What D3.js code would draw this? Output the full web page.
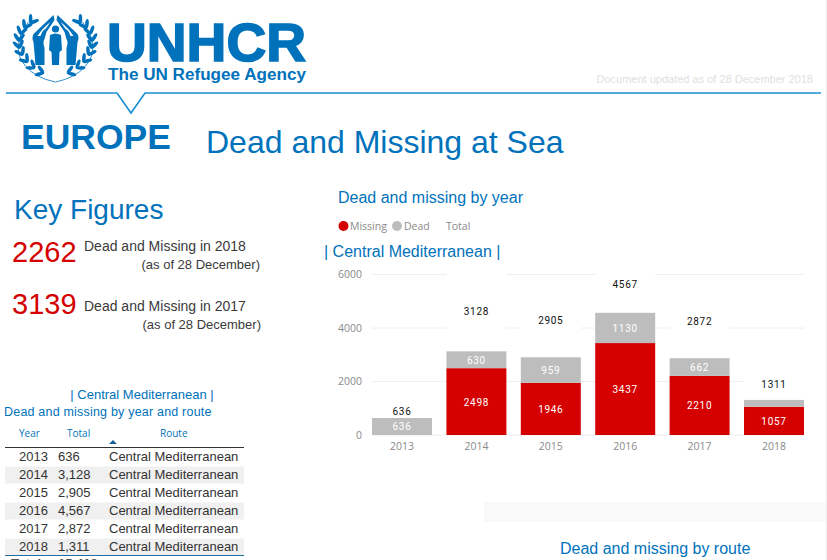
<!DOCTYPE html>
<html><head><meta charset="utf-8">
<script src="https://cdn.jsdelivr.net/npm/d3@7"></script>
<style>html,body{margin:0;padding:0;background:#fff}svg{display:block}</style></head>
<body><svg id="c" width="827" height="560"></svg>
<script>
const years=[2013,2014,2015,2016,2017,2018];
const missing=[0,2498,1946,3437,2210,1057];
const dead=[636,630,959,1130,662,254];
const totals=[636,3128,2905,4567,2872,1311];
const deadLabels=["636","630","959","1130","662",""];
const missingLabels=["","2498","1946","3437","2210","1057"];
const yTicks=[0,2000,4000,6000];
const tableTotals=["636","3,128","2,905","4,567","2,872","1,311"];
const tableRoute="Central Mediterranean";
const keyFigures=[["2262","Dead and Missing in 2018"],["3139","Dead and Missing in 2017"]];

const BLUE="#0072bc",TXT="Liberation Sans, Arial, sans-serif",DIN="Roboto, sans-serif",UI="'Open Sans', sans-serif";
const svg=d3.select("#c");
function t(x,y,s,size,fill,o={}){return svg.append("text").attr("x",x).attr("y",y).text(s)
 .attr("font-family",o.f||TXT).attr("font-size",size).attr("fill",fill).attr("font-weight",o.w||400)
 .attr("text-anchor",o.a||"start").attr("letter-spacing",o.ls||0);}

svg.append("rect").attr("x",826).attr("y",0).attr("width",1).attr("height",560).attr("fill","#eeeeee");

/* logo */
const logo=svg.append("g");
t(107,61,"UNHCR",53,BLUE,{w:700}).attr("textLength",199).attr("lengthAdjust","spacingAndGlyphs").attr("stroke",BLUE).attr("stroke-width",1.6);
t(108,80,"The UN Refugee Agency",17.2,BLUE,{w:700}).attr("textLength",198).attr("lengthAdjust","spacingAndGlyphs");
const L=logo.append("g").attr("fill",BLUE);
L.append("circle").attr("cx",55.5).attr("cy",29).attr("r",3.6);
L.append("path").attr("d","M50 35 Q55.5 32 61 35 L62 50 L59.5 52 L59 65 L52 65 L51.5 52 L49 50 Z");
for(const s of [-1,1]){
  const h=L.append("g").attr("transform",`translate(55.5,0) scale(${s},1)`);
  h.append("path").attr("d","M2 15 L22 34 Q24 38 22 42 L20 65 L11 65 L11 48 Q13 42 11 39 L9 32 L1 20 Z");
  h.append("path").attr("d","M5 22 Q13 28 18 36 L15 36 Q13 30 10 29 Z").attr("fill","#fff");
  const w=L.append("g").attr("transform",`translate(55.5,0) scale(${s},1)`);
  const nodes=[[25,23,-125],[31,28,-118],[35,34,-105],[36.5,41,-92],[36,48,-78],[33,55,-62],[28,62,-50],[21,68,-35],[12,73,-20]];
  nodes.forEach(n=>{
    [-34,34].forEach(a=>{
      w.append("ellipse").attr("rx",4.8).attr("ry",1.8)
       .attr("transform",`translate(${n[0]},${n[1]}) rotate(${n[2]+a}) translate(4.2,0)`);
    });
  });
  w.append("path").attr("d","M27 22 Q46 48 30 66 Q20 78 0 82").attr("fill","none").attr("stroke",BLUE).attr("stroke-width",.8);
}

/* header */
t(813,83,"Document updated as of 28 December 2018",11,"#dfdfdf",{a:"end"});
svg.append("path").attr("d","M6 93 H117 L131 113 L145 93 H821").attr("fill","none").attr("stroke","#1a8fd0").attr("stroke-width",1.6);
t(21,149,"EUROPE",35.5,BLUE,{w:700});
t(206,153,"Dead and Missing at Sea",32,BLUE);

/* key figures */
t(14,219,"Key Figures",28,BLUE);
keyFigures.forEach((k,i)=>{
  const dy=i*60;
  t(12,262+i*52,k[0],29,"#d50000");
  t(84,251+dy,k[1],14,"#3a3a3a");
  t(260+i,269+dy,"(as of 28 December)",13,"#3a3a3a",{a:"end"});
});

/* chart */
const x=d3.scaleBand().domain(years).range([364.8,811.2]).paddingInner(.194).paddingOuter(.097);
const y=d3.scaleLinear().domain([0,6000]).range([435,274.5]);
const clipMax=6860;
const grid=svg.append("g");
grid.selectAll("line").data(yTicks).join("line").attr("x1",372).attr("x2",804)
 .attr("y1",d=>y(d)).attr("y2",d=>y(d)).attr("stroke","#eeeeee").attr("stroke-width",1);
const yAxis=svg.append("g").attr("transform","translate(364,0)").call(d3.axisLeft(y).tickValues(yTicks).tickFormat(d3.format("d")).tickSize(0).tickPadding(2));
yAxis.select(".domain").remove();
yAxis.selectAll("text").attr("font-family",UI).attr("font-size",10.5).attr("fill","#8a8a8a");
const xAxis=svg.append("g").attr("transform","translate(0,435)").call(d3.axisBottom(x).tickSize(0).tickPadding(8));
xAxis.select(".domain").remove();
xAxis.selectAll("text").attr("font-family",UI).attr("font-size",10.5).attr("fill","#8a8a8a");

const bars=svg.append("g");
const bx=(d,i)=>x(years[i]);
bars.selectAll(".w").data(totals).join("rect").attr("x",bx).attr("width",x.bandwidth())
 .attr("y",d=>y(Math.min(2*d,clipMax))).attr("height",d=>y(d)-y(Math.min(2*d,clipMax))).attr("fill","#fff");
bars.selectAll(".m").data(missing).enter().append("rect").attr("x",bx).attr("width",x.bandwidth())
 .attr("y",d=>y(d)).attr("height",d=>y(0)-y(d)).attr("fill","#d50000");
bars.selectAll(".d").data(dead).enter().append("rect").attr("x",bx).attr("width",x.bandwidth())
 .attr("y",(d,i)=>y(d+missing[i])).attr("height",d=>y(0)-y(d)).attr("fill","#bdbdbd");
const lab=svg.append("g").attr("font-family",DIN).attr("font-size",10).attr("text-anchor","middle").attr("letter-spacing",.7);
const cx=i=>x(years[i])+x.bandwidth()/2;
lab.selectAll(".lm").data(missingLabels).enter().append("text").attr("x",(d,i)=>cx(i))
 .attr("y",(d,i)=>y(missing[i]/2)+4).attr("fill","#fff").text(d=>d);
lab.selectAll(".ld").data(deadLabels).enter().append("text").attr("x",(d,i)=>cx(i))
 .attr("y",(d,i)=>y(missing[i]+dead[i]/2)+4).attr("fill","#fff").text(d=>d);
lab.selectAll(".lt").data(totals).enter().append("text").attr("x",(d,i)=>cx(i))
 .attr("y",d=>y((d+Math.min(2*d,clipMax))/2)+5.5).attr("fill","#111").text(d=>d);

t(338,203,"Dead and missing by year",16,BLUE);
svg.append("circle").attr("cx",343.5).attr("cy",226).attr("r",5).attr("fill","#d50000");
t(350,230,"Missing",10.5,"#8a8a8a",{f:UI});
svg.append("circle").attr("cx",397).attr("cy",226).attr("r",5).attr("fill","#bdbdbd");
t(404,230,"Dead",10.5,"#8a8a8a",{f:UI});
t(446,230,"Total",10.5,"#8a8a8a",{f:UI});
t(324,257,"| Central Mediterranean |",16,BLUE);

/* table */
t(142,399,"| Central Mediterranean |",13,BLUE,{a:"middle"});
t(4,416,"Dead and missing by year and route",12.5,BLUE,{ls:.2});
t(19,437,"Year",10,BLUE,{f:UI});
t(67,437,"Total",10,BLUE,{f:UI});
t(160,437,"Route",10,BLUE,{f:UI});
svg.append("path").attr("d","M109 444 L113 440 L117 444 Z").attr("fill","#1c5f99");
svg.append("line").attr("x1",5).attr("x2",244).attr("y1",447.5).attr("y2",447.5).attr("stroke","#333");
const rowY=d3.scaleBand().domain(years).range([448,556]);
svg.append("g").selectAll("rect").data(years.filter((d,i)=>i%2)).join("rect").attr("x",5).attr("width",239)
 .attr("y",d=>rowY(d)+.5).attr("height",rowY.bandwidth()-1).attr("fill","#f0f0f0");
years.forEach((yr,i)=>{
  const b=rowY(yr)+12.5;
  t(19,b,yr,13,"#333");
  t(58,b,tableTotals[i],13,"#333");
  t(109,b,tableRoute,13,"#333");
});
svg.append("line").attr("x1",5).attr("x2",244).attr("y1",555.5).attr("y2",555.5).attr("stroke","#1c6ea4");
t(11,568,"Total",13,"#555",{w:700});
t(58,568,d3.format(",")(d3.sum(totals)),13,"#555",{w:700});

/* bottom */
svg.append("rect").attr("x",484).attr("y",502).attr("width",342).attr("height",20).attr("fill","#f9f9f9");
t(560,554,"Dead and missing by route",16,BLUE);
</script></body></html>
